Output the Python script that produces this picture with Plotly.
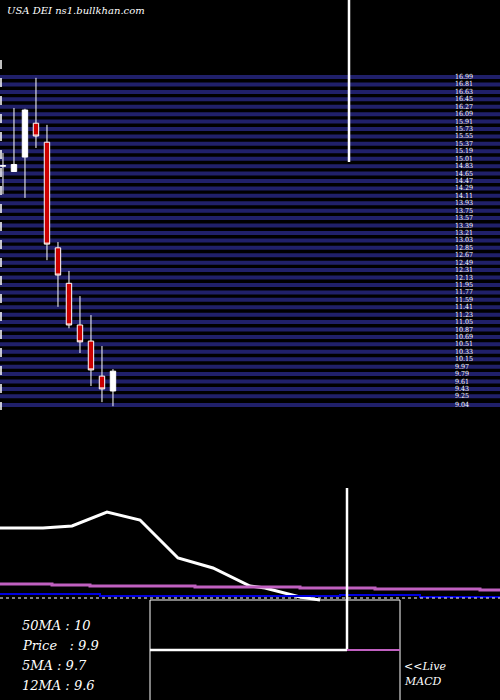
import plotly.graph_objects as go

# ---- data ----
idx = [0, 1, 2, 3, 4, 5, 6, 7, 8, 9, 10]
opens  = [14.83, 14.70, 15.05, 15.87, 15.41, 12.85, 11.99, 10.98, 10.59, 9.74, 9.38]
highs  = [15.15, 16.24, 16.22, 16.97, 15.83, 12.99, 12.29, 11.68, 11.22, 10.47, 9.91]
lows   = [14.15, 14.70, 14.06, 15.27, 12.55, 11.42, 10.90, 10.30, 9.50, 9.11, 9.01]
closes = [14.84, 14.87, 16.19, 15.56, 12.94, 12.19, 10.98, 10.57, 9.89, 9.43, 9.86]

levels = [16.99, 16.81, 16.63, 16.45, 16.27, 16.09, 15.91, 15.73, 15.55, 15.37, 15.19,
          15.01, 14.83, 14.65, 14.47, 14.29, 14.11, 13.93, 13.75, 13.57, 13.39, 13.21,
          13.03, 12.85, 12.67, 12.49, 12.31, 12.13, 11.95, 11.77, 11.59, 11.41, 11.23,
          11.05, 10.87, 10.69, 10.51, 10.33, 10.15, 9.97, 9.79, 9.61, 9.43, 9.25, 9.04]

# indicator panel (arbitrary units, axis 0..700 top-down)
macd_x = [0, 43, 72, 107, 140, 178, 213, 250, 265, 300, 320]
macd_y = [528, 528, 526, 512, 520, 558, 568, 586, 588, 597, 600]
sig_x = [0, 52, 90, 195, 300, 375, 480, 500]
sig_y = [584, 585, 586, 587, 588, 589, 590, 590]
blue_x = [0, 100, 340, 420, 500]
blue_y = [594, 596, 595, 597, 597]
zero_x = [0, 500]
zero_y = [598, 598]

info = ["50MA : 10", "Price   : 9.9", "5MA : 9.7", "12MA : 9.6"]

fig = go.Figure()

for lv in levels:
    fig.add_shape(type="line", xref="x", yref="y", x0=-1, x1=46, y0=lv, y1=lv,
                  line=dict(color="#20206a", width=4), layer="below")
    fig.add_annotation(x=40.9, y=lv, xref="x", yref="y", text=f"{lv:.2f}", showarrow=False,
                       font=dict(family="DejaVu Serif Condensed, serif", size=7, color="white"),
                       xanchor="left", yanchor="middle")

fig.add_trace(go.Candlestick(x=idx, open=opens, high=highs, low=lows, close=closes,
                             increasing=dict(fillcolor="white", line=dict(color="white", width=1)),
                             decreasing=dict(fillcolor="#cc0000", line=dict(color="white", width=1)),
                             whiskerwidth=0, xaxis="x", yaxis="y"))

lk = dict(xaxis="x2", yaxis="y2", mode="lines", hoverinfo="skip")
fig.add_trace(go.Scatter(x=macd_x, y=macd_y, line=dict(color="white", width=3), **lk))
fig.add_trace(go.Scatter(x=sig_x, y=sig_y, line=dict(color="#c060c0", width=3, shape="hv"), **lk))
fig.add_trace(go.Scatter(x=blue_x, y=blue_y, line=dict(color="#0000dd", width=2, shape="hv"), **lk))
fig.add_trace(go.Scatter(x=zero_x, y=zero_y, line=dict(color="white", width=1, dash="dot"), **lk))

sh = dict(xref="x2", yref="y2")
fig.add_shape(type="line", x0=349, x1=349, y0=0, y1=162, line=dict(color="white", width=2.5), **sh)
fig.add_shape(type="line", x0=347, x1=347, y0=488, y1=650, line=dict(color="white", width=2.5), **sh)
fig.add_shape(type="rect", x0=150, x1=400, y0=600, y1=702, line=dict(color="white", width=1), **sh)
fig.add_shape(type="line", x0=150, x1=347, y0=650, y1=650, line=dict(color="white", width=2.5), **sh)
fig.add_shape(type="line", x0=347, x1=400, y0=650, y1=650, line=dict(color="#c060c0", width=2), **sh)
fig.add_shape(type="line", x0=1, x1=1, y0=60, y1=410, line=dict(color="white", width=1.5, dash="dash"), **sh)

for i, t in enumerate(info):
    fig.add_annotation(x=20, y=625 + 20 * i, xref="x2", yref="y2", text=f"<i>{t}</i>", showarrow=False,
                       xanchor="left", yanchor="middle",
                       font=dict(family="DejaVu Serif, serif", size=13, color="white"))
for t, yy in [("<<Live", 666), ("MACD", 681)]:
    fig.add_annotation(x=402, y=yy, xref="x2", yref="y2", text=f"<i>{t}</i>", showarrow=False,
                       xanchor="left", yanchor="middle",
                       font=dict(family="DejaVu Serif, serif", size=11, color="white"))
fig.add_annotation(x=5, y=10, xref="x2", yref="y2", text="<i>USA DEI ns1.bullkhan.com</i>", showarrow=False,
                   xanchor="left", yanchor="middle",
                   font=dict(family="DejaVu Serif, serif", size=10, color="white"))

fig.update_layout(
    width=500, height=700, margin=dict(l=0, r=0, t=0, b=0),
    paper_bgcolor="black", plot_bgcolor="black", showlegend=False,
    xaxis=dict(range=[-0.27, 45.18], visible=False, rangeslider=dict(visible=False), fixedrange=True),
    yaxis=dict(range=[1.89, 18.857], visible=False),
    xaxis2=dict(range=[0, 500], visible=False, overlaying="x"),
    yaxis2=dict(range=[700, 0], visible=False, overlaying="y"),
)
fig.write_html("out.html", config={"displayModeBar": False},
               post_script="document.body.style.margin='0';document.body.style.background='black';")
